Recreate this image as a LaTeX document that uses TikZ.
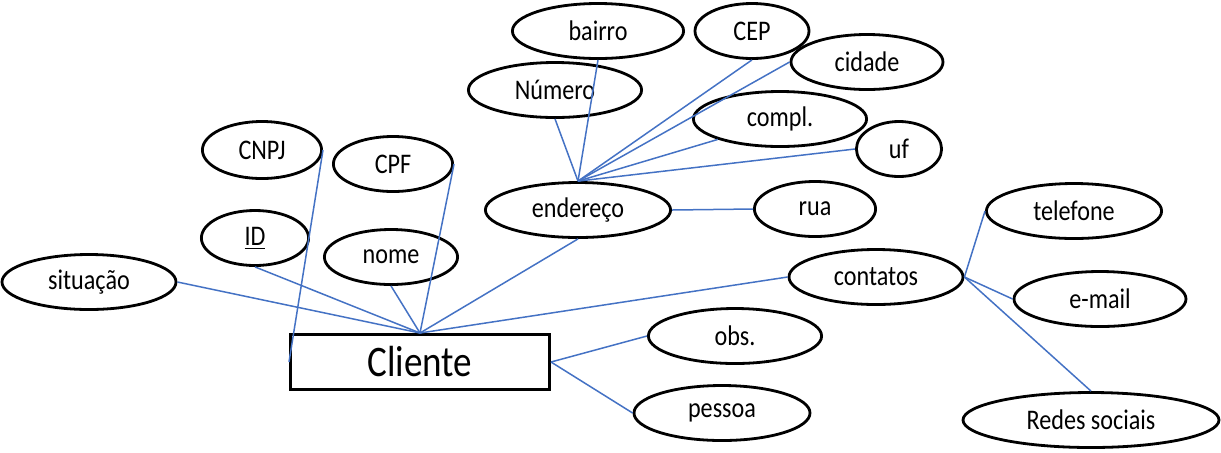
\documentclass[tikz,border=0pt]{standalone}
\usepackage{fontspec}
\setmainfont{Carlito}[FakeStretch=0.85]
\usetikzlibrary{shapes.geometric}
\definecolor{linkblue}{RGB}{68,114,196}

\begin{document}
\begin{tikzpicture}[x=0.5pt, y=-0.5pt,
    attr/.style={ellipse, draw, line width=1.4pt, inner sep=0pt, minimum height=27.5pt, font=\fontsize{14.2}{16}\selectfont},
    entity/.style={rectangle, draw, line width=1.4pt, minimum width=129.6pt, minimum height=27.6pt, font=\fontsize{21.8}{24}\selectfont},
    link/.style={draw=linkblue, line width=0.75pt}]
    \useasboundingbox (0,0) rectangle (1221,452);

    % the entity
    \node[entity] (cliente) at (420,362) {Cliente};

    % attributes of Cliente
    \node[attr, minimum width=87pt] (situacao) at (89,282) {situação};
    \node[attr, minimum width=59.6pt, minimum height=28.5pt] (cnpj) at (262,150) {CNPJ};
    \node[attr, minimum width=59.6pt] (cpf) at (393,164) {CPF};
    \node[attr, minimum width=53.6pt] (id) at (255,238) {\underline{ID}};
    \node[attr, minimum width=66.6pt] (nome) at (391,257) {nome};
    \node[attr, minimum width=92.6pt] (endereco) at (578,210) {endereço};
    \node[attr, minimum width=87pt] (contatos) at (876,277) {contatos};
    \node[attr, minimum width=86.6pt] (obs) at (735,336) {obs.};
    \node[attr, minimum width=88pt] (pessoa) at (722,413) {pessoa};

    % parts of endereço
    \node[attr, minimum width=85.6pt] (bairro) at (598,31) {bairro};
    \node[attr, minimum width=57pt] (cep) at (752,31) {CEP};
    \node[attr, minimum width=76pt] (cidade) at (867,62) {cidade};
    \node[attr, minimum width=86.6pt] (numero) at (555,90) {Número};
    \node[attr, minimum width=86.6pt] (compl) at (780,119) {compl.};
    \node[attr, minimum width=42.6pt] (uf) at (899,149) {uf};
    \node[attr, minimum width=60.6pt] (rua) at (815,209) {rua};

    % parts of contatos
    \node[attr, minimum width=87.6pt] (telefone) at (1074,211) {telefone};
    \node[attr, minimum width=86pt] (email) at (1100,299) {e-mail};
    \node[attr, minimum width=128pt] (redes) at (1091,420) {Redes sociais};

    % connectors
    \foreach \a in {situacao.east, id.south, nome.south, cpf.east, endereco.south, contatos.west}
        \draw[link] (\a) -- (cliente.north);
    \draw[link] (cnpj.east) -- (cliente.west);
    \draw[link] (cliente.east) -- (obs.west);
    \draw[link] (cliente.east) -- (pessoa.west);

    \foreach \a in {numero.south, bairro.south, cep.south, cidade.west, compl.south west, uf.west}
        \draw[link] (\a) -- (endereco.north);
    \draw[link] (endereco.east) -- (rua.west);

    \draw[link] (contatos.east) -- (telefone.west);
    \draw[link] (contatos.east) -- (email.west);
    \draw[link] (contatos.east) -- (redes.north);
\end{tikzpicture}
\end{document}
